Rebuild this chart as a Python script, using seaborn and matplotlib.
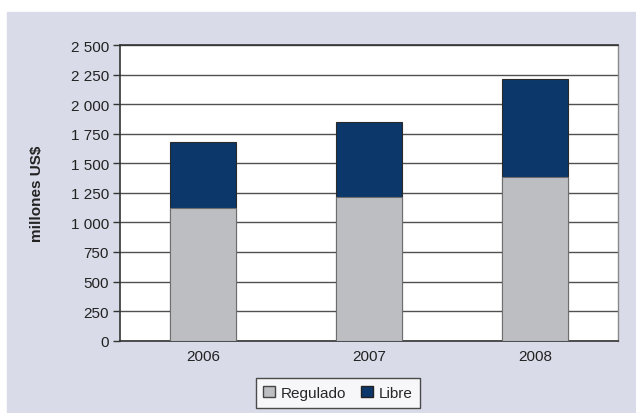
import matplotlib
matplotlib.use("Agg")
import matplotlib.pyplot as plt
from matplotlib.patches import Rectangle, Patch
import seaborn as sns
import pandas as pd

years = ["2006", "2007", "2008"]
regulado = [1118, 1216, 1385]
libre = [563, 632, 825]

BG = "#d9dce8"
GREY = "#bdbec2"
NAVY = "#0b376a"

df = pd.DataFrame({"year": years, "regulado": regulado, "libre": libre})
df["total"] = df["regulado"] + df["libre"]

sns.set_theme(style="white")
plt.rcParams["font.family"] = ["Liberation Sans", "DejaVu Sans"]

fig = plt.figure(figsize=(6.36, 4.14), dpi=100, facecolor="white")
# lavender panel with a thin white margin top/left
fig.patches.append(Rectangle((7 / 636, 0), 1, (414 - 13) / 414,
                             transform=fig.transFigure, color=BG, zorder=-10))

ax = fig.add_axes([120 / 636, 72.3 / 414, 498 / 636, 295.7 / 414])
ax.set_facecolor("white")

# stacked: draw totals (Libre) first, then Regulado over the lower part
sns.barplot(data=df, x="year", y="total", color=NAVY, saturation=1, width=0.4,
            edgecolor="#2a2a2a", linewidth=0.8, ax=ax, zorder=3)
sns.barplot(data=df, x="year", y="regulado", color=GREY, saturation=1, width=0.4,
            edgecolor="#6e6e6e", linewidth=0.8, ax=ax, zorder=4)

ax.set_ylim(0, 2500)
ax.set_xlim(-0.5, 2.5)
yt = list(range(0, 2501, 250))
ax.set_yticks(yt)
ax.set_yticklabels([f"{v:,}".replace(",", " ") for v in yt], fontsize=11, color="#222222")
ax.yaxis.grid(True, color="#505050", linewidth=1.0, zorder=0)
ax.set_axisbelow(True)

ax.set_xticks([0, 1, 2])
ax.set_xticklabels(years, fontsize=11, color="#222222")
ax.set_xticks([-0.5, 0.5, 1.5, 2.5], minor=True)
ax.tick_params(axis="x", which="major", length=0, pad=6)
ax.tick_params(axis="x", which="minor", length=5, width=1, color="#333333", direction="out")
ax.tick_params(axis="y", length=5, width=1, color="#333333", direction="out", left=True, pad=3)

for side in ["left", "bottom", "top"]:
    ax.spines[side].set_color("#333333")
    ax.spines[side].set_linewidth(1.2)
ax.spines["right"].set_color("#888888")
ax.spines["right"].set_linewidth(1.0)

ax.set_xlabel("")
ax.set_ylabel("millones US$", fontsize=11, fontweight="bold", color="#222222")
ax.yaxis.set_label_coords((44 - 120) / 498, 0.5)

handles = [Patch(facecolor=GREY, edgecolor="#444444", label="Regulado"),
           Patch(facecolor=NAVY, edgecolor="#222222", label="Libre")]
leg = fig.legend(handles=handles, loc="center", bbox_to_anchor=(338 / 636, 20 / 414),
                 ncol=2, fontsize=11, frameon=True, fancybox=False, handlelength=0.75,
                 handleheight=0.75, handletextpad=0.4, columnspacing=1.0, borderpad=0.5)
leg.get_frame().set_edgecolor("#222222")
leg.get_frame().set_linewidth(1.0)
leg.get_frame().set_facecolor("white")

fig.savefig("out.png", dpi=100, facecolor=fig.get_facecolor())
